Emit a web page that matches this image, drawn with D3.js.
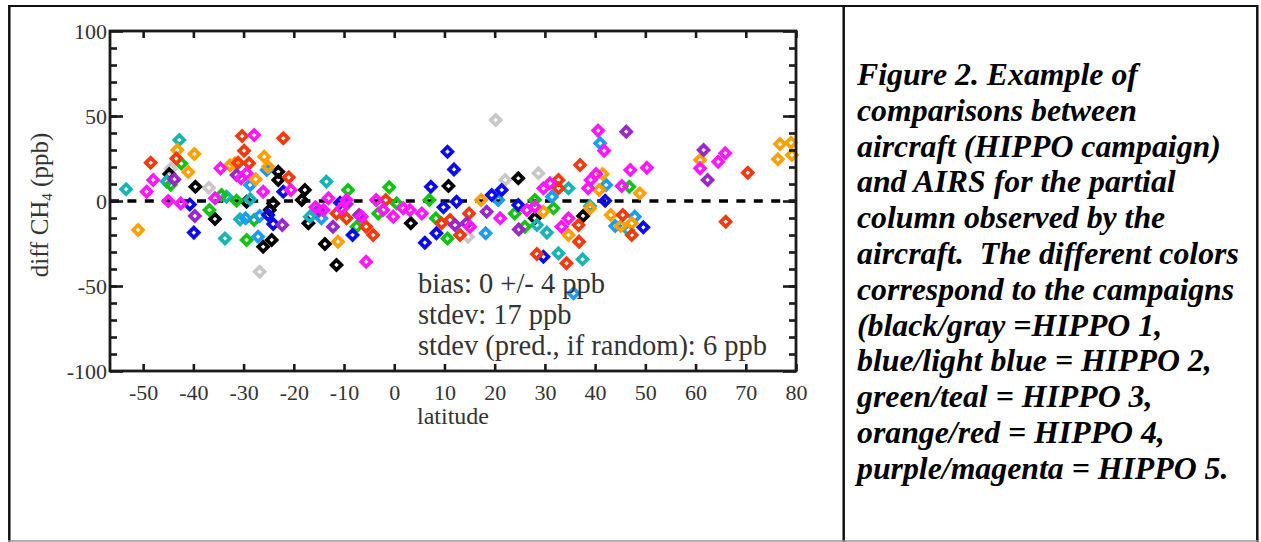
<!DOCTYPE html>
<html>
<head>
<meta charset="utf-8">
<script src="https://cdnjs.cloudflare.com/ajax/libs/d3/7.8.5/d3.min.js"></script>
<style>
  html, body { margin: 0; padding: 0; background: #fff; }
  svg { display: block; }
  .tick text { font-family: "Liberation Serif", serif; fill: #333; }
</style>
</head>
<body>
<svg id="canvas" width="1261" height="542"></svg>
<script>
// latitude, diff CH4 (ppb) pairs, one list per colour
let blackPts = [[-44.8,15.9],[-39.6,8.4],[-35.7,-10.6],[-23.1,17.2],[-23.1,12.4],[-17.8,6.5],[-18.4,0.6],[-29.4,-0.4],[-24.1,-1.4],[-24.8,-5.3],[-26.1,-26.9],[-24.4,-22.9],[-17.1,-13.1],[-13.8,-25.3],[-11.5,-37.6],[3.3,-13.1],[10.8,8.8],[24.7,13.4],[28,-10.2],[37.6,-8.8]];
let grayPts = [[-44.5,19],[-36.9,7.8],[-26.8,-41.6],[20.2,47.6],[22.1,12.4],[28.7,16.3],[14.7,-21]];
let bluePts = [[-40.7,-2],[-39.9,-18.6],[-22.1,5.5],[-25.1,-8.2],[-24.1,-13.5],[-10.8,-1],[-8.3,-20],[7.3,8.4],[10.6,29],[11.9,18.6],[9.8,-3.7],[8.4,-19],[6.1,-24.5],[12.4,-0.4],[19.4,3.5],[21.4,6.5],[24.7,-2.4],[29.7,-32.8],[42,0.2],[49.6,-15.5]];
let lightBluePts = [[-25.4,18.2],[-28.7,9.4],[-29.6,-10.2],[-26.8,-8.8],[-27.1,-21],[-14.5,-10.2],[20.7,0.6],[18.2,-19],[31.4,2.5],[35.7,-54.3],[41,33.9],[42.2,9.4],[47.9,-9.2],[44,-14.7]];
let greenPts = [[-42.4,22],[-44.5,9.5],[-36.8,-5.3],[-34.4,3.5],[-31.4,0.2],[-27.9,-11.2],[-29.4,-22.9],[-9.2,6.5],[-7.5,-15.1],[-1,8.1],[-3.2,-7.3],[0.5,-1.4],[7,0.6],[8.3,-10.2],[10.6,-22],[24,-7.3],[28,0.6],[26,-15.1],[31.7,-4.3],[46.8,8.4]];
let tealPts = [[-53.4,6.9],[-45.3,11.4],[-42.8,35.9],[-33.4,2.5],[-33.7,-22],[-28.7,1],[-30.7,-10.8],[-13.5,11.4],[-16.8,-9.2],[28.4,-14.1],[30.4,-18.6],[32.7,-30.8],[34.7,7.5],[37.5,-34.3],[46.6,-17.1],[39,-3]];
let orangePts = [[-51,-17],[-43.2,30],[-41,17],[-39.8,27.6],[-32.7,21],[-31.7,22.2],[-25.9,26.1],[-25.1,20.2],[-27.6,12.8],[-11.2,-23.9],[17.3,0.6],[29.7,-6.3],[34.7,-20],[41.5,15.9],[40.8,6.5],[39,-4.3],[43.1,-8.2],[45.1,-14.7],[47.3,-13.1],[48.9,4.5],[60.9,24.1],[76.8,33.5],[79,34.3],[76.4,24.5],[79.2,27.1]];
let redPts = [[-48.5,22.5],[-43.4,25],[-30.3,38.2],[-22.1,36.9],[-29.9,29.6],[-31.1,22.5],[-28.9,22.2],[-21,13.9],[-11.5,-7.3],[-9.5,-10.2],[-5.6,-15.1],[-4.2,-20],[-1.7,0.6],[9.4,-13.1],[11.1,-11.2],[14.9,-7.3],[13.1,-20],[32.7,12.4],[32.7,7.5],[28.4,-31.2],[34.3,-36.6],[37,21.2],[36.7,-14.1],[36.8,-23.9],[45.5,-8.2],[47.3,-20],[70.4,16.6],[66,-12.2]];
let purplePts = [[-43.8,12.7],[-39.7,-8.8],[-31.4,15.3],[-22.3,-14.1],[-12.2,-15.1],[-15.1,-5.3],[-9.5,-1.8],[-7,-8.2],[12.1,-14.1],[14.4,-13.1],[18.4,-6.3],[24.8,-16.7],[46.2,40.8],[61.6,30],[62.4,12.4]];
let magentaPts = [[-49.3,5.5],[-48,12.4],[-45,0],[-42.5,-1.4],[-35.7,1.6],[-34.6,19.2],[-27.9,38.8],[-30.5,13.4],[-29.4,16.3],[-26.1,5.5],[-20.6,6.5],[-15.7,-3.7],[-14.1,-5.3],[-13.1,1.6],[-9.5,0.6],[-10.5,-4.3],[-6.5,-9.2],[-5.6,-35.7],[-3.6,0.6],[-2.2,-5.3],[-0.2,-9.2],[1.8,-4.3],[3.1,-5.3],[5.5,-7.3],[21.1,-10.2],[15.1,-15.1],[26.4,-5.3],[28,-3.3],[29.7,7.5],[31,10.4],[33.3,-15.1],[34.7,-10.2],[40.6,41.4],[41.8,29.6],[47,18.2],[50.3,19.6],[40.2,15.9],[39.1,12.4],[38.6,7.5],[45.3,8.8],[60.9,19.2],[65.9,28.1],[64.5,23.1]];

let xTicks = [-50, -40, -30, -20, -10, 0, 10, 20, 30, 40, 50, 60, 70, 80];
let yTicks = [-100, -50, 0, 50, 100];
let yMinorTicks = d3.range(-90, 100, 10);

let statLines = ["bias: 0 +/- 4 ppb", "stdev: 17 ppb", "stdev (pred., if random): 6 ppb"];
let captionLines = [
  "Figure 2. Example of",
  "comparisons between",
  "aircraft (HIPPO campaign)",
  "and AIRS for the partial",
  "column observed by the",
  "aircraft.  The different colors",
  "correspond to the campaigns",
  "(black/gray =HIPPO 1,",
  "blue/light blue = HIPPO 2,",
  "green/teal = HIPPO 3,",
  "orange/red = HIPPO 4,",
  "purple/magenta = HIPPO 5."
];

let series = [
  { pts: grayPts, color: "#c8c8c8" },
  { pts: blackPts, color: "#000000" },
  { pts: tealPts, color: "#16b4b4" },
  { pts: greenPts, color: "#12c412" },
  { pts: lightBluePts, color: "#1c9cf5" },
  { pts: bluePts, color: "#0a0af0" },
  { pts: orangePts, color: "#ffa000" },
  { pts: redPts, color: "#f23a0c" },
  { pts: purplePts, color: "#9a26cc" },
  { pts: magentaPts, color: "#ff18ff" }
];

let canvas = d3.select("#canvas");

// table borders
canvas.append("line").attr("x1", 8).attr("x2", 1258).attr("y1", 6).attr("y2", 6)
  .attr("stroke", "#111").attr("stroke-width", 2);
canvas.append("line").attr("x1", 9.3).attr("x2", 9.3).attr("y1", 5).attr("y2", 542)
  .attr("stroke", "#111").attr("stroke-width", 2.5);
canvas.append("line").attr("x1", 843.7).attr("x2", 843.7).attr("y1", 5).attr("y2", 542)
  .attr("stroke", "#111").attr("stroke-width", 2.5);
canvas.append("line").attr("x1", 1257.3).attr("x2", 1257.3).attr("y1", 5).attr("y2", 542)
  .attr("stroke", "#111").attr("stroke-width", 2.5);
canvas.append("line").attr("x1", 8).attr("x2", 1258).attr("y1", 541).attr("y2", 541)
  .attr("stroke", "#999").attr("stroke-width", 1.5);

let plotLeft = 110, plotRight = 796, plotTop = 31, plotBottom = 371;
let x = d3.scaleLinear().domain([-56.6, 80]).range([plotLeft, plotRight]);
let y = d3.scaleLinear().domain([-100, 100]).range([plotBottom, plotTop]);

let axisColor = "#1a1a1a";
let plainNum = (d) => String(d);

// zero line
canvas.append("line")
  .attr("x1", plotLeft).attr("x2", plotRight)
  .attr("y1", y(0)).attr("y2", y(0))
  .attr("stroke", "#000").attr("stroke-width", 3.4)
  .attr("stroke-dasharray", "9,8.4");

// points
let diamond = "M0,-4.9L4.9,0L0,4.9L-4.9,0Z";
series.forEach((s) => {
  canvas.append("g")
    .selectAll("path")
    .data(s.pts)
    .enter()
    .append("path")
    .attr("d", diamond)
    .attr("transform", (d) => "translate(" + x(d[0]) + "," + y(d[1]) + ")")
    .attr("fill", "none")
    .attr("stroke", s.color)
    .attr("stroke-width", 3.7);
});

// axes
let styleAxis = (g) => {
  g.select(".domain").remove();
  g.selectAll(".tick line").attr("stroke", axisColor).attr("stroke-width", 2.6);
};

canvas.append("g")
  .attr("transform", "translate(0," + plotBottom + ")")
  .call(d3.axisBottom(x).tickValues(xTicks).tickSizeInner(-7).tickSizeOuter(0).tickPadding(13).tickFormat(plainNum))
  .call(styleAxis)
  .selectAll("text").style("font-size", "22px").attr("dy", "0.71em");

canvas.append("g")
  .attr("transform", "translate(0," + plotTop + ")")
  .call(d3.axisTop(x).tickValues(xTicks).tickSizeInner(-7).tickSizeOuter(0).tickFormat(""))
  .call(styleAxis);

canvas.append("g")
  .attr("transform", "translate(" + plotLeft + ",0)")
  .call(d3.axisLeft(y).tickValues(yMinorTicks).tickSizeInner(-7).tickSizeOuter(0).tickFormat(""))
  .call(styleAxis);

canvas.append("g")
  .attr("transform", "translate(" + plotLeft + ",0)")
  .call(d3.axisLeft(y).tickValues(yTicks).tickSizeInner(-13).tickSizeOuter(0).tickPadding(3).tickFormat(plainNum))
  .call(styleAxis)
  .selectAll("text").style("font-size", "22px");

canvas.append("g")
  .attr("transform", "translate(" + plotRight + ",0)")
  .call(d3.axisRight(y).tickValues(yMinorTicks).tickSizeInner(-7).tickSizeOuter(0).tickFormat(""))
  .call(styleAxis);

canvas.append("g")
  .attr("transform", "translate(" + plotRight + ",0)")
  .call(d3.axisRight(y).tickValues(yTicks).tickSizeInner(-13).tickSizeOuter(0).tickFormat(""))
  .call(styleAxis);

// plot frame
canvas.append("rect")
  .attr("x", plotLeft).attr("y", plotTop)
  .attr("width", plotRight - plotLeft).attr("height", plotBottom - plotTop)
  .attr("fill", "none").attr("stroke", axisColor).attr("stroke-width", 2.8);

// axis titles
canvas.append("text")
  .attr("x", (plotLeft + plotRight) / 2).attr("y", 424)
  .attr("text-anchor", "middle")
  .style("font-family", "Liberation Serif, serif").style("font-size", "24px").attr("fill", "#333")
  .text("latitude");

let yTitle = canvas.append("text")
  .attr("transform", "translate(48," + 205 + ") rotate(-90)")
  .attr("text-anchor", "middle")
  .style("font-family", "Liberation Serif, serif").style("font-size", "25px").attr("fill", "#333");
yTitle.append("tspan").text("diff CH");
yTitle.append("tspan").attr("dy", 4).style("font-size", "15px").text("4");
yTitle.append("tspan").attr("dy", -4).text(" (ppb)");

// stats annotation
canvas.append("g")
  .selectAll("text")
  .data(statLines)
  .enter()
  .append("text")
  .attr("x", 418)
  .attr("y", (d, i) => 293 + i * 31)
  .style("font-family", "Liberation Serif, serif").style("font-size", "28.5px").attr("fill", "#333")
  .text((d) => d);

// caption
canvas.append("g")
  .selectAll("text")
  .data(captionLines)
  .enter()
  .append("text")
  .attr("x", 857)
  .attr("y", (d, i) => 85 + i * 35.8)
  .style("font-family", "Liberation Serif, serif").style("font-size", "31.8px")
  .style("font-weight", "bold").style("font-style", "italic")
  .style("white-space", "pre")
  .attr("fill", "#000")
  .text((d) => d);
</script>
</body>
</html>
